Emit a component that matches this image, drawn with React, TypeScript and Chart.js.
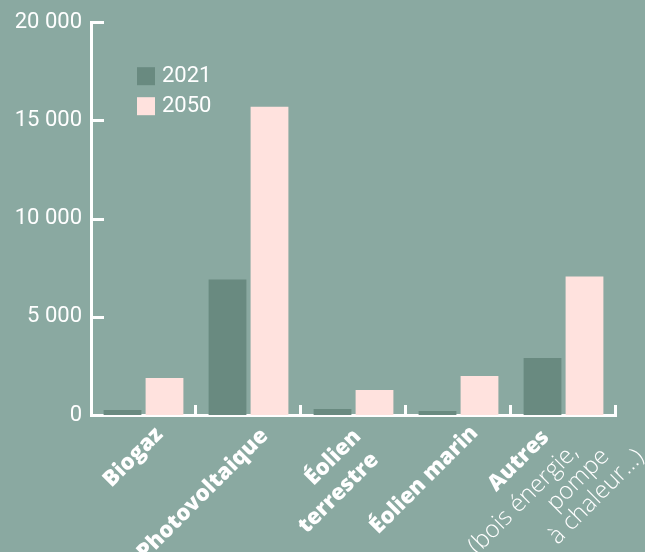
import React, { useEffect, useRef } from "react";
import { Chart, registerables } from "chart.js";

Chart.register(...registerables);

// ---------- data ----------
const categories = ["Biogaz", "Photovoltaique", "Éolien terrestre", "Éolien marin", "Autres"];
const labelLines = [
  ["Biogaz"],
  ["Photovoltaique"],
  ["Éolien", "terrestre"],
  ["Éolien marin"],
  ["Autres", "(bois énergie,", "pompe", "à chaleur…)"],
];
const seriesNames = ["2021", "2050"];
const values2021 = [250, 6900, 300, 200, 2900];
const values2050 = [1880, 15700, 1270, 1980, 7050];
const yTicks = [0, 5000, 10000, 15000, 20000];

// ---------- styles ----------
const BG = "#8aa9a1";
const DARK = "#698a80";
const PINK = "#ffe2de";
const WHITE = "#ffffff";
const TICK_FONT = { family: "Roboto", size: 22, weight: "400" as any };

// per-line offsets in the rotated label frame (u = along text, v = baseline offset)
const LABEL_LAYOUT = [
  [{ u: 0, v: 29, bold: true }],
  [{ u: -1, v: 30, bold: true }],
  [{ u: -10, v: 22, bold: true }, { u: -14, v: 51, bold: true }],
  [{ u: 1, v: 28, bold: true }],
  [
    { u: -26, v: 7, bold: true },
    { u: -16, v: 38, bold: false },
    { u: 3, v: 63, bold: false },
    { u: 27, v: 88, bold: false },
  ],
];

const fmt = (v: number) => String(v).replace(/\B(?=(\d{3})+(?!\d))/g, " ");

const decorPlugin = {
  id: "decor",
  beforeDraw(chart: any) {
    const { ctx, width, height } = chart;
    ctx.save();
    ctx.fillStyle = BG;
    ctx.fillRect(0, 0, width, height);
    ctx.restore();
  },
  afterDraw(chart: any) {
    const { ctx, chartArea } = chart;
    const x = chart.scales.x;
    const y = chart.scales.y;
    ctx.save();
    ctx.strokeStyle = WHITE;
    ctx.lineWidth = 3;
    ctx.lineCap = "butt";
    // inward y ticks
    yTicks.forEach((t) => {
      if (t === 0) return;
      const py = Math.round(y.getPixelForValue(t)) + 0.5;
      ctx.beginPath();
      ctx.moveTo(chartArea.left, py);
      ctx.lineTo(chartArea.left + 13, py);
      ctx.stroke();
    });
    // category boundary ticks
    for (let i = 0; i < categories.length; i++) {
      const px = Math.round(x.getPixelForValue(i + 0.5)) - 0.5;
      ctx.beginPath();
      ctx.moveTo(px, chartArea.bottom - 10);
      ctx.lineTo(px, chartArea.bottom);
      ctx.stroke();
    }
    // legend
    const datasets = chart.data.datasets;
    ctx.textAlign = "left";
    ctx.textBaseline = "middle";
    ctx.font = `400 22px Roboto`;
    datasets.forEach((ds: any, i: number) => {
      const bx = chartArea.left + 46;
      const by = chartArea.top + 45 + i * 30;
      ctx.fillStyle = ds.backgroundColor;
      ctx.fillRect(bx, by, 18, 18);
      ctx.fillStyle = WHITE;
      ctx.fillText(ds.label, bx + 25, by + 9.5);
    });
    // category labels
    ctx.fillStyle = WHITE;
    labelLines.forEach((lines, i) => {
      const cx = x.getPixelForValue(i);
      lines.forEach((txt, j) => {
        const l = LABEL_LAYOUT[i][j];
        ctx.save();
        ctx.translate(cx, chartArea.bottom);
        ctx.rotate(-Math.PI / 4);
        ctx.font = l.bold ? `800 22px "Open Sans"` : `300 24px "Open Sans"`;
        ctx.textAlign = "right";
        ctx.textBaseline = "alphabetic";
        ctx.fillText(txt, l.u, l.v);
        ctx.restore();
      });
    });
    ctx.restore();
  },
};

export default function App() {
  const ref = useRef<HTMLCanvasElement | null>(null);
  useEffect(() => {
    document.body.style.margin = "0";
    document.body.style.background = BG;
    const canvas = ref.current!;
    const chart = new Chart(canvas, {
      type: "bar",
      data: {
        labels: categories,
        datasets: [
          { label: seriesNames[0], data: values2021, backgroundColor: DARK, borderWidth: 0 },
          { label: seriesNames[1], data: values2050, backgroundColor: PINK, borderWidth: 0 },
        ],
      },
      plugins: [decorPlugin],
      options: {
        responsive: false,
        animation: false,
        devicePixelRatio: 1,
        layout: { padding: { top: 20, right: 29, left: 0, bottom: 0 } },
        datasets: { bar: { categoryPercentage: 0.8, barPercentage: 0.9 } },
        plugins: { legend: { display: false }, tooltip: { enabled: false } },
        scales: {
          x: {
            ticks: { display: false },
            grid: { display: false, drawTicks: false },
            border: { display: true, color: WHITE, width: 3 },
            afterFit: (s: any) => {
              s.height = 137;
            },
          },
          y: {
            min: 0,
            max: 20000,
            afterBuildTicks: (s: any) => {
              s.ticks = yTicks.map((v) => ({ value: v }));
            },
            ticks: {
              color: WHITE,
              font: TICK_FONT,
              padding: 9,
              callback: (v: any) => fmt(Number(v)),
            },
            grid: { display: false, drawTicks: false },
            border: { display: true, color: WHITE, width: 3 },
            afterFit: (s: any) => {
              s.width = 91;
            },
          },
        },
      },
    });
    return () => chart.destroy();
  }, []);
  return (
    <canvas ref={ref} width={645} height={552} style={{ display: "block", width: 645, height: 552 }} />
  );
}
